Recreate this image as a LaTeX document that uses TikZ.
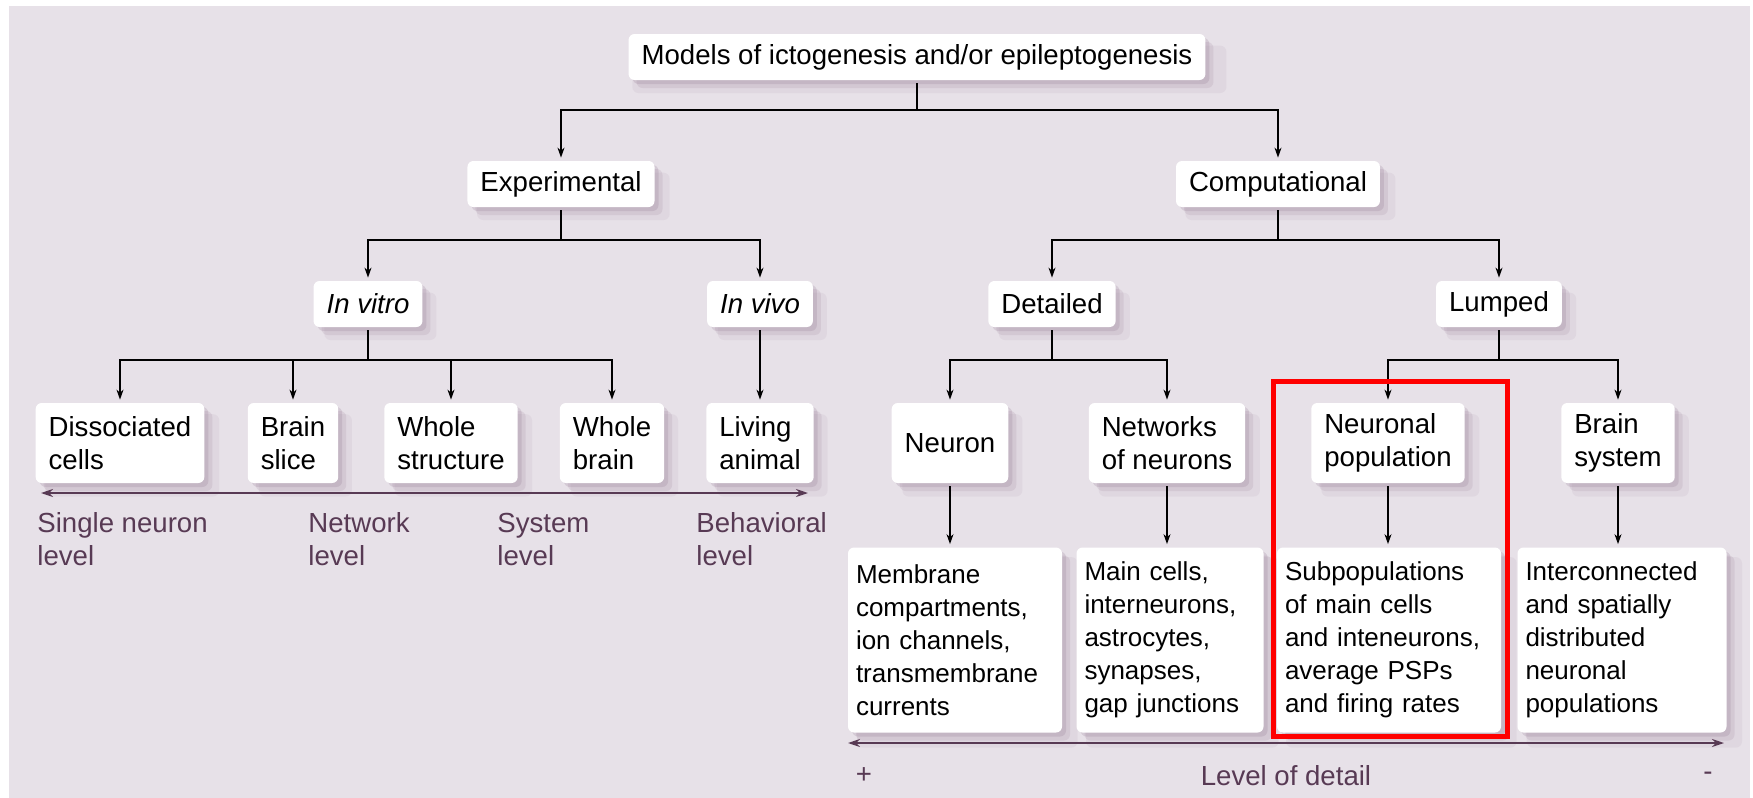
\documentclass[tikz,border=0pt]{standalone}
\usepackage{fontspec}
\setmainfont{Liberation Sans}
\usetikzlibrary{arrows.meta,positioning,shadows}
\definecolor{bgmauve}{RGB}{231,225,232}
\definecolor{shademauve}{RGB}{140,110,138}
\definecolor{levelpurple}{RGB}{88,58,84}

\begin{document}
\begin{tikzpicture}[
  x=0.5pt, y=-0.5pt,
  box/.style={fill=white, rounded corners=3pt, align=left, inner xsep=6.5pt, inner ysep=0pt,
    font=\fontsize{13.8}{16.5}\selectfont,
    drop shadow={shadow xshift=6pt, shadow yshift=-6pt, shadow scale=1.03, fill=shademauve, opacity=0.08},
    drop shadow={shadow xshift=4pt, shadow yshift=-4pt, fill=shademauve, opacity=0.14},
    drop shadow={shadow xshift=2pt, shadow yshift=-2pt, fill=shademauve, opacity=0.2}},
  single/.style={box, minimum height=23pt},
  double/.style={box, minimum height=40pt},
  tall/.style={box, minimum height=92.5pt, inner xsep=4pt, font=\fontsize{13}{16.5}\selectfont},
  arrow/.style={-{Stealth[length=5pt,width=3.5pt]}, line width=0.65pt, shorten <=1.5pt, shorten >=1.5pt},
  level/.style={{Stealth[length=6pt,width=4pt]}-{Stealth[length=6pt,width=4pt]}, line width=1pt, draw=levelpurple},
  levellabel/.style={text=levelpurple, align=left, inner sep=0pt, font=\fontsize{13.8}{16.5}\selectfont}
]
\useasboundingbox (0,0) rectangle (1753,798);
\fill[bgmauve] (9,6) rectangle (1750,798);

\node[single] (models) at (917,57) {Models of ictogenesis and/or epileptogenesis};
\node[single] (exp) at (561,184) {Experimental};
\node[single] (comp) at (1278,184) {Computational};
\node[single] (invitro) at (368,304) {\itshape In vitro};
\node[single] (invivo) at (760,304) {\itshape In vivo};
\node[single] (detailed) at (1052,304) {Detailed};
\node[single] (lumped) at (1499,304) {Lumped};

\node[double] (dissoc) at (120,443) {Dissociated\\cells};
\node[double] (slice) at (293,443) {Brain\\slice};
\node[double] (structure) at (451,443) {Whole\\structure};
\node[double] (wholebrain) at (612,443) {Whole\\brain};
\node[double] (animal) at (760,443) {Living\\animal};
\node[double] (neuron) at (950,443) {Neuron};
\node[double] (network) at (1167,443) {Networks\\of neurons};
\node[double] (population) at (1388,443) {Neuronal\\population};
\node[double] (bsystem) at (1618,443) {Brain\\system};

\node[tall, text width=99pt] (membrane) at (955,640) {Membrane\\compartments,\\ion channels,\\transmembrane\\currents};
\node[tall, text width=85.5pt] (maincells) at (1170,640) {Main cells,\\interneurons,\\astrocytes,\\synapses,\\gap junctions};
\node[tall, text width=104pt] (subpop) at (1389,640) {Subpopulations\\of main cells\\and inteneurons,\\average PSPs\\and firing rates};
\node[tall, text width=96.5pt] (interconn) at (1622,640) {Interconnected\\and spatially\\distributed\\neuronal\\populations};

\coordinate (fork1) at (0,110);
\coordinate (fork2) at (0,240);
\coordinate (fork3) at (0,360);

\foreach \child in {exp,comp}
  \draw[arrow] (models.south) -- (models.south |- fork1) -| (\child.north);
\foreach \child in {invitro,invivo}
  \draw[arrow] (exp.south) -- (exp.south |- fork2) -| (\child.north);
\foreach \child in {detailed,lumped}
  \draw[arrow] (comp.south) -- (comp.south |- fork2) -| (\child.north);
\foreach \child in {dissoc,slice,structure,wholebrain}
  \draw[arrow] (invitro.south) -- (invitro.south |- fork3) -| (\child.north);
\draw[arrow] (invivo.south) -- (animal.north);
\foreach \child in {neuron,network}
  \draw[arrow] (detailed.south) -- (detailed.south |- fork3) -| (\child.north);
\foreach \child in {population,bsystem}
  \draw[arrow] (lumped.south) -- (lumped.south |- fork3) -| (\child.north);

\draw[arrow] (neuron.south) -- (neuron.south |- membrane.north);
\draw[arrow] (network.south) -- (network.south |- maincells.north);
\draw[arrow] (population.south) -- (population.south |- subpop.north);
\draw[arrow] (bsystem.south) -- (bsystem.south |- interconn.north);

\coordinate (cellend) at (41,493);
\coordinate (behavend) at (808,493);
\draw[level] (cellend) -- (behavend);
\node[levellabel, anchor=west] (neuronlevel) at (37,539) {Single neuron\\level};
\node[levellabel, anchor=west] (netlevel) at (308,539) {Network\\level};
\node[levellabel, anchor=west] (syslevel) at (497,539) {System\\level};
\node[levellabel, anchor=west] (behlevel) at (696,539) {Behavioral\\level};

\coordinate (moredetail) at (848,743);
\coordinate (lessdetail) at (1724,743);
\draw[level] (moredetail) -- (lessdetail);
\node[levellabel] (plus) at (864,776) {+};
\node[levellabel] (detail) at (1286,776) {Level of detail};
\node[levellabel] (minus) at (1708,776) {-};

\draw[red, line width=2.5pt] (1273,381) rectangle (1507,736);
\end{tikzpicture}
\end{document}
